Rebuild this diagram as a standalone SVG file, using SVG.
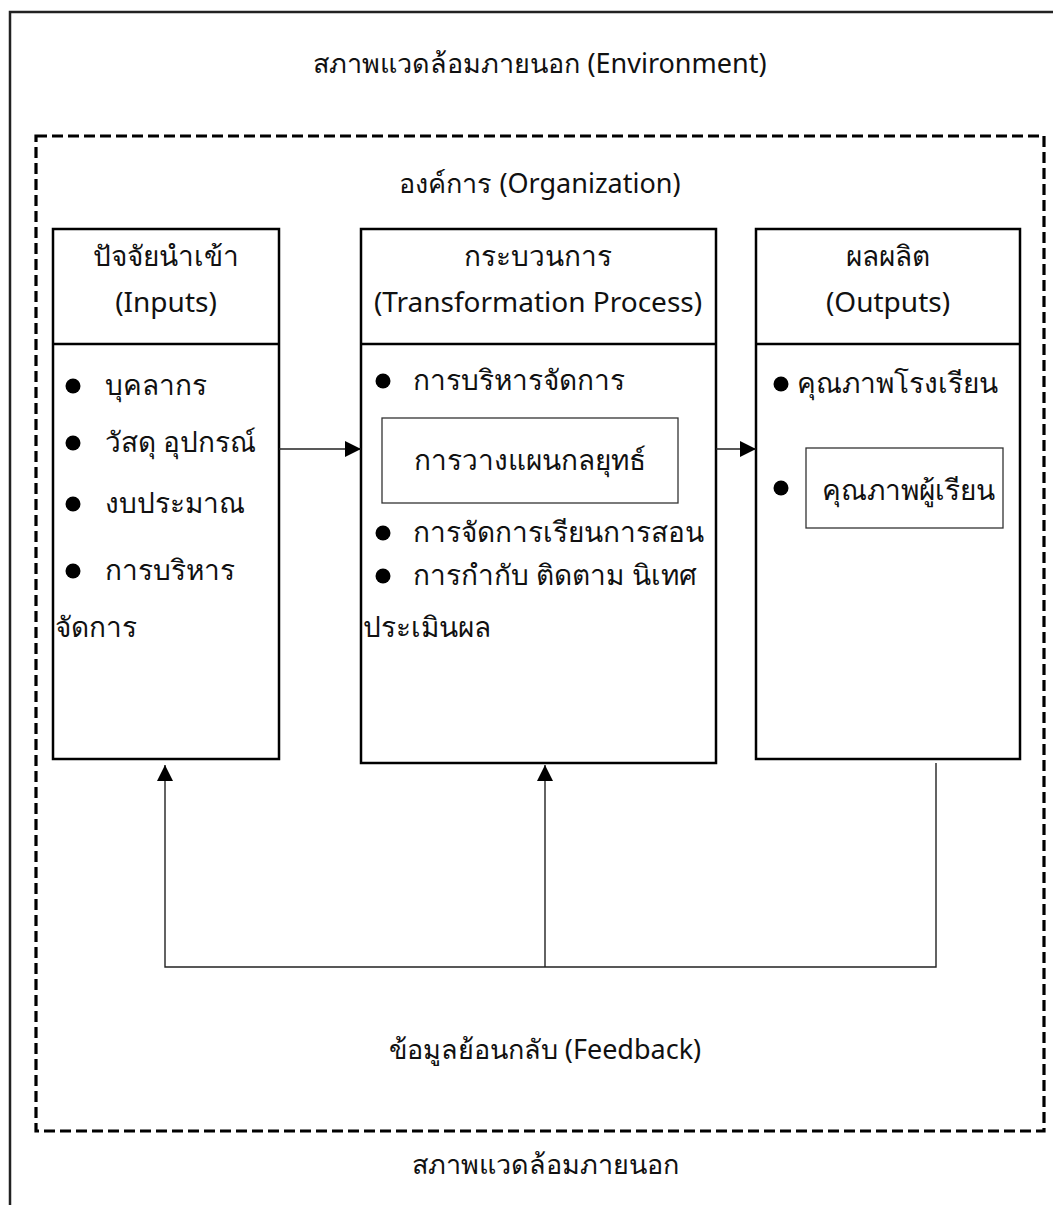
<svg xmlns="http://www.w3.org/2000/svg" width="1053" height="1205" viewBox="0 0 1053 1205">
<style>
text{font-family:"Noto Sans","DejaVu Sans",sans-serif;font-size:28px;fill:#111}
.t{font-size:27px}
.c{text-anchor:middle}
.box{fill:none;stroke:#000;stroke-width:2.5}
.inner{fill:none;stroke:#333;stroke-width:1.3}
.conn{fill:none;stroke:#222;stroke-width:1.4}
.dot{fill:#000}
</style>
<defs>
<marker id="ah" viewBox="0 0 16 16" refX="16" refY="8" markerWidth="16" markerHeight="16" markerUnits="userSpaceOnUse" orient="auto">
<path d="M0,0 L16,8 L0,16 z" fill="#000"/>
</marker>
</defs>
<rect width="1053" height="1205" fill="#fff"/>
<g id="environment">
<path d="M10,1205 V12 H1053" fill="none" stroke="#222" stroke-width="2.5"/>
<text class="c t" x="540" y="73">สภาพแวดล้อมภายนอก (Environment)</text>
<text class="c t" x="545" y="1174">สภาพแวดล้อมภายนอก</text>
</g>
<g id="organization">
<rect x="36" y="136" width="1008" height="995" fill="none" stroke="#000" stroke-width="3.2" stroke-dasharray="11 5"/>
<text class="c t" x="540" y="193">องค์การ (Organization)</text>
<text class="c t" x="545" y="1059">ข้อมูลย้อนกลับ (Feedback)</text>
</g>
<g id="inputs">
<rect class="box" x="53" y="229" width="226" height="530"/>
<line class="box" x1="53" y1="344" x2="279" y2="344"/>
<text class="c" x="166" y="266">ปัจจัยนำเข้า</text>
<text class="c" x="166" y="312">(Inputs)</text>
<circle class="dot" cx="73" cy="386" r="7.5"/><text x="105" y="395">บุคลากร</text>
<circle class="dot" cx="73" cy="443" r="7.5"/><text x="105" y="452">วัสดุ อุปกรณ์</text>
<circle class="dot" cx="73" cy="504" r="7.5"/><text x="105" y="513">งบประมาณ</text>
<circle class="dot" cx="73" cy="571" r="7.5"/><text x="105" y="580">การบริหาร</text>
<text x="55" y="637">จัดการ</text>
</g>
<g id="process">
<rect class="box" x="361" y="229" width="355" height="534"/>
<line class="box" x1="361" y1="344" x2="716" y2="344"/>
<text class="c" x="538" y="266">กระบวนการ</text>
<text class="c" x="538" y="312">(Transformation Process)</text>
<circle class="dot" cx="383" cy="381" r="7.5"/><text x="413" y="390">การบริหารจัดการ</text>
<circle class="dot" cx="383" cy="533" r="7.5"/><text x="413" y="542">การจัดการเรียนการสอน</text>
<circle class="dot" cx="383" cy="576" r="7.5"/><text x="413" y="585">การกำกับ ติดตาม นิเทศ</text>
<text x="363" y="637">ประเมินผล</text>
</g>
<g id="strategic-planning">
<rect class="inner" x="382" y="418" width="296" height="85"/>
<text class="c" x="530" y="470">การวางแผนกลยุทธ์</text>
</g>
<g id="outputs">
<rect class="box" x="756" y="229" width="264" height="530"/>
<line class="box" x1="756" y1="344" x2="1020" y2="344"/>
<text class="c" x="888" y="266">ผลผลิต</text>
<text class="c" x="888" y="312">(Outputs)</text>
<circle class="dot" cx="781" cy="384" r="7.5"/><text x="797" y="393">คุณภาพโรงเรียน</text>
<circle class="dot" cx="781" cy="488" r="7.5"/>
</g>
<g id="student-quality">
<rect class="inner" x="806" y="448" width="197" height="80"/>
<text class="c" x="908" y="500">คุณภาพผู้เรียน</text>
</g>
<g id="connectors">
<path class="conn" d="M279,449 H361" marker-end="url(#ah)"/>
<path class="conn" d="M716,449 H756" marker-end="url(#ah)"/>
<path class="conn" d="M936,763 V967 H165 V765" marker-end="url(#ah)"/>
<path class="conn" d="M545,967 V765" marker-end="url(#ah)"/>
</g>
</svg>
